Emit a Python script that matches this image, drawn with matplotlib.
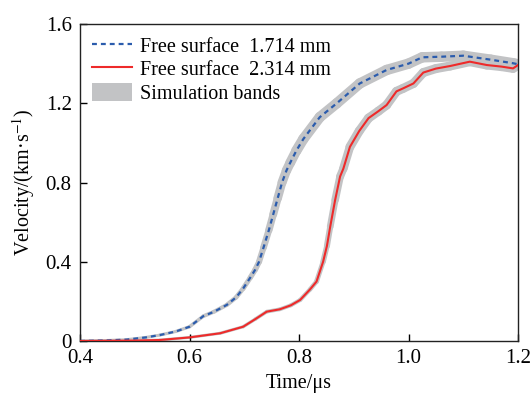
import matplotlib
matplotlib.use("Agg")
import matplotlib.pyplot as plt
import matplotlib.patches as patches
from matplotlib.lines import Line2D
from matplotlib.collections import LineCollection
import numpy as np

plt.rcParams['font.family'] = ['Liberation Serif', 'DejaVu Serif']
plt.rcParams['mathtext.fontset'] = 'stix'

# free surface 1.714 mm (blue dashed)
t_blue = [0.40, 0.45, 0.485, 0.52, 0.546, 0.575, 0.60, 0.625, 0.645, 0.668,
          0.685, 0.698, 0.711, 0.72, 0.727, 0.735, 0.745, 0.753, 0.761, 0.769,
          0.777, 0.784, 0.795, 0.808, 0.838, 0.869, 0.911, 0.96, 1.00, 1.025,
          1.06, 1.10, 1.15, 1.191, 1.20]
v_blue = [0.0, 0.003, 0.007, 0.018, 0.03, 0.048, 0.072, 0.125, 0.148, 0.182,
          0.22, 0.265, 0.32, 0.36, 0.40, 0.47, 0.56, 0.64, 0.72, 0.80,
          0.86, 0.90, 0.96, 1.02, 1.13, 1.20, 1.30, 1.368, 1.40, 1.432,
          1.435, 1.44, 1.42, 1.402, 1.397]

# free surface 2.314 mm (red solid)
t_red = [0.40, 0.50, 0.546, 0.60, 0.656, 0.698, 0.72, 0.741, 0.765, 0.785,
         0.802, 0.82, 0.832, 0.844, 0.851, 0.857, 0.866, 0.875, 0.881, 0.893,
         0.91, 0.927, 0.945, 0.96, 0.978, 0.99, 1.009, 1.027, 1.05, 1.076,
         1.112, 1.143, 1.17, 1.191, 1.20]
v_red = [0.0, 0.002, 0.005, 0.018, 0.039, 0.072, 0.11, 0.148, 0.16, 0.18,
         0.207, 0.26, 0.30, 0.40, 0.48, 0.577, 0.712, 0.83, 0.87, 0.98,
         1.06, 1.125, 1.16, 1.191, 1.26, 1.275, 1.30, 1.355, 1.375, 1.388,
         1.41, 1.393, 1.385, 1.376, 1.393]

x_ticks = [0.4, 0.6, 0.8, 1.0, 1.2]
x_ticklabels = ['0.4', '0.6', '0.8', '1.0', '1.2']
y_ticks = [0, 0.4, 0.8, 1.2, 1.6]
y_ticklabels = ['0', '0.4', '0.8', '1.2', '1.6']

band_color = '#c2c3c5'
blue = '#2b5cad'
red = '#ee2a2a'

fig = plt.figure(figsize=(5.32, 3.99), dpi=100)
ax = fig.add_axes([0.1504, 0.1454, 0.8233, 0.7944])


def band(t, v, wmax):
    # grey simulation band, a bit wider where the velocity is higher
    pts = np.array([t, v]).T.reshape(-1, 1, 2)
    segs = np.concatenate([pts[:-1], pts[1:]], axis=1)
    vm = (np.array(v[:-1]) + np.array(v[1:])) / 2
    lw = 2.0 + (wmax - 2.0) * np.clip(vm / 1.0, 0, 1)
    lc = LineCollection(segs, colors=band_color, linewidths=lw,
                        capstyle='round', joinstyle='round', zorder=1)
    ax.add_collection(lc)


band(t_blue, v_blue, 7.5)
band(t_red, v_red, 6.5)

ax.plot(t_blue, v_blue, color=blue, lw=1.6, ls=(0, (2.2, 1.8)), zorder=3)
ax.plot(t_red, v_red, color=red, lw=1.5, zorder=3)

ax.set_xlim(0.4, 1.2)
ax.set_ylim(0, 1.6)
ax.set_xticks(x_ticks)
ax.set_xticklabels(x_ticklabels)
ax.set_yticks(y_ticks)
ax.set_yticklabels(y_ticklabels)
ax.tick_params(direction='in', length=5, width=1, labelsize=15, pad=6,
               top=False, right=False)
for s in ax.spines.values():
    s.set_linewidth(1.0)
    s.set_color('#222222')

ax.set_xlabel('Time/μs', fontsize=14.5, labelpad=4)
ax.set_ylabel('Velocity/(km·s$^{-1}$)', fontsize=14.5, labelpad=6)

handles = [Line2D([], [], color=blue, lw=1.6, ls=(0, (2.2, 1.8))),
           Line2D([], [], color=red, lw=1.5),
           patches.Patch(facecolor=band_color, edgecolor='none')]
labels = ['Free surface  1.714 mm', 'Free surface  2.314 mm', 'Simulation bands']
ax.legend(handles, labels, loc='upper left', frameon=False, fontsize=14.5,
          handlelength=2.0, handleheight=1.0, handletextpad=0.4,
          labelspacing=0.12, borderaxespad=0.3, borderpad=0.3)

plt.savefig('out.png', dpi=100)
